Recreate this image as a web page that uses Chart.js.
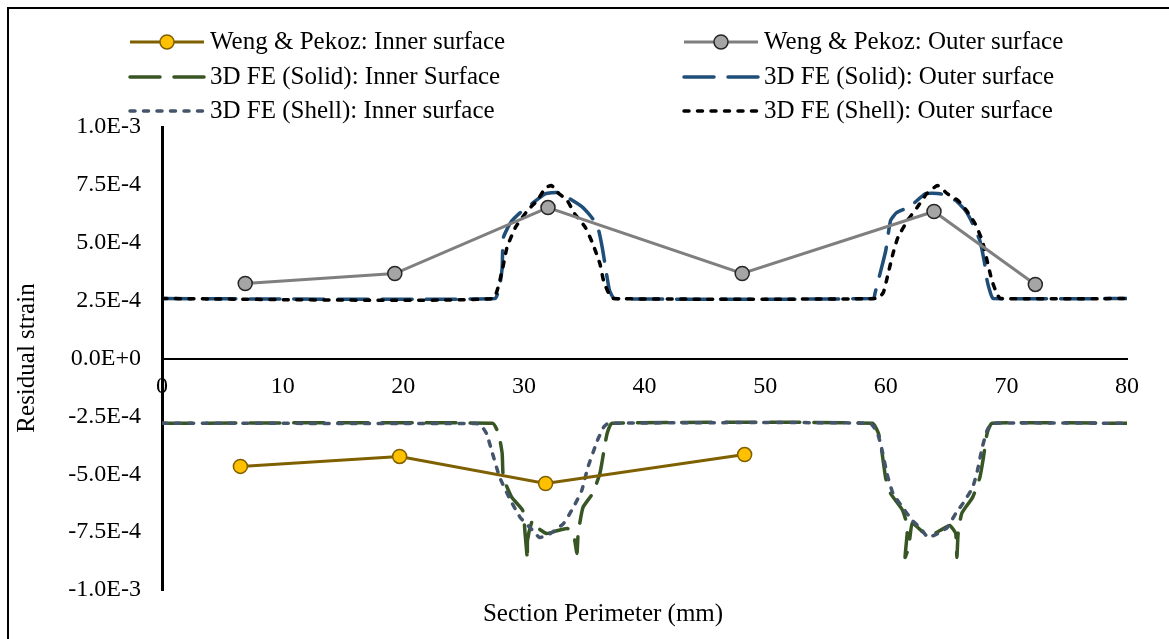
<!DOCTYPE html>
<html>
<head>
<meta charset="utf-8">
<title>Residual strain along section perimeter</title>
<script src="https://cdn.jsdelivr.net/npm/chart.js@4.4.1/dist/chart.umd.min.js"></script>
<style>
  html, body { margin: 0; padding: 0; background: #fff; }
  #wrap { width: 1169px; height: 639px; }
</style>
</head>
<body>
<div id="wrap"><canvas id="strain" width="1169" height="639"></canvas></div>
<script>
// ── Data (perimeter position in mm, residual strain) ──────────────────────────

var wengInnerX = [6.5, 19.7, 31.8, 48.3];
var wengInnerY = [-4.66e-4, -4.23e-4, -5.40e-4, -4.15e-4];

var wengOuterX = [6.9, 19.3, 32.0, 48.1, 64.0, 72.4];
var wengOuterY = [3.24e-4, 3.67e-4, 6.52e-4, 3.67e-4, 6.35e-4, 3.20e-4];

var solidInnerX = [0, 27.4, 27.9, 28.2, 28.3, 29.0, 29.9, 30.1, 30.3, 30.3, 30.7, 31.1, 31.9, 32.8, 33.6, 34.1, 34.4, 34.5, 34.9, 35.7, 36.3, 36.6, 36.9, 37.3,
                   58.9, 59.4, 59.7, 60.0, 60.4, 61.4, 61.8, 61.6, 61.9, 62.2, 63.1, 63.7, 64.5, 65.3, 65.8, 65.9, 66.0, 66.3, 67.2, 67.8, 68.1, 68.4, 68.8, 80];
var solidInnerY = [-2.80e-4, -2.80e-4, -3.24e-4, -4.10e-4, -5.14e-4, -6.00e-4, -6.56e-4, -7.56e-4, -8.72e-4, -7.86e-4, -7.00e-4, -7.30e-4, -7.56e-4, -7.43e-4, -7.34e-4, -7.56e-4, -8.42e-4, -7.56e-4, -6.43e-4, -5.83e-4, -4.97e-4, -4.10e-4, -3.24e-4, -2.80e-4,
                   -2.80e-4, -3.24e-4, -4.10e-4, -5.18e-4, -5.83e-4, -6.56e-4, -7.30e-4, -8.59e-4, -8.16e-4, -7.12e-4, -7.51e-4, -7.64e-4, -7.43e-4, -7.21e-4, -7.56e-4, -8.59e-4, -7.56e-4, -6.69e-4, -6.00e-4, -5.14e-4, -4.27e-4, -3.24e-4, -2.80e-4, -2.80e-4];

var solidOuterX = [0, 27.6, 28.0, 28.2, 28.3, 28.9, 29.7, 30.7, 31.8, 32.8, 33.8, 34.9, 35.7, 36.2, 36.5, 36.7, 36.9, 37.1, 37.5,
                   59.0, 59.1, 59.7, 60.0, 60.4, 60.9, 62.0, 63.3, 64.5, 65.8, 66.6, 67.2, 67.8, 68.2, 68.4, 68.7, 68.9, 80];
var solidOuterY = [2.59e-4, 2.59e-4, 3.15e-4, 3.93e-4, 5.22e-4, 5.87e-4, 6.30e-4, 6.70e-4, 7.12e-4, 7.17e-4, 6.90e-4, 6.52e-4, 6.04e-4, 5.53e-4, 4.79e-4, 4.15e-4, 3.50e-4, 2.94e-4, 2.59e-4,
                   2.59e-4, 2.80e-4, 4.02e-4, 4.66e-4, 5.96e-4, 6.30e-4, 6.56e-4, 7.12e-4, 7.12e-4, 6.82e-4, 6.39e-4, 5.83e-4, 5.10e-4, 4.10e-4, 3.37e-4, 2.80e-4, 2.59e-4, 2.59e-4];

var shellInnerX = [0, 26.0, 26.4, 26.9, 27.4, 28.0, 28.9, 29.7, 30.5, 31.3, 32.2, 33.3, 34.1, 34.8, 35.3, 36.1, 36.6, 37.0,
                   58.7, 59.3, 59.7, 60.1, 60.6, 61.4, 62.2, 62.9, 63.5, 64.3, 65.1, 65.8, 66.4, 67.2, 67.6, 68.0, 68.4, 68.8, 80];
var shellInnerY = [-2.80e-4, -2.81e-4, -2.85e-4, -3.24e-4, -4.10e-4, -5.14e-4, -6.13e-4, -6.87e-4, -7.30e-4, -7.73e-4, -7.56e-4, -7.12e-4, -6.43e-4, -5.70e-4, -4.71e-4, -3.54e-4, -2.98e-4, -2.80e-4,
                   -2.80e-4, -3.20e-4, -3.97e-4, -4.97e-4, -5.83e-4, -6.43e-4, -7.00e-4, -7.34e-4, -7.73e-4, -7.56e-4, -7.30e-4, -6.69e-4, -6.26e-4, -5.57e-4, -4.84e-4, -3.84e-4, -3.11e-4, -2.80e-4, -2.80e-4];

var shellOuterX = [0, 27.4, 28.2, 28.6, 29.3, 30.3, 31.1, 31.8, 32.3, 32.8, 33.6, 34.2, 35.1, 35.7, 36.3, 36.6, 37.0, 37.4,
                   59.3, 59.8, 60.2, 60.6, 61.0, 61.8, 62.6, 63.4, 64.3, 65.1, 66.0, 66.7, 67.4, 68.0, 68.4, 68.8, 69.2, 69.5, 80];
var shellOuterY = [2.59e-4, 2.59e-4, 3.80e-4, 4.80e-4, 5.66e-4, 6.39e-4, 6.82e-4, 7.38e-4, 7.47e-4, 7.17e-4, 6.82e-4, 6.26e-4, 5.66e-4, 4.97e-4, 4.10e-4, 3.37e-4, 2.85e-4, 2.59e-4,
                   2.59e-4, 2.85e-4, 3.67e-4, 4.53e-4, 5.22e-4, 5.96e-4, 6.52e-4, 7.12e-4, 7.47e-4, 7.12e-4, 6.82e-4, 6.39e-4, 5.83e-4, 5.10e-4, 4.23e-4, 3.37e-4, 2.81e-4, 2.59e-4, 2.59e-4];

var seriesLabels = [
    'Weng & Pekoz: Inner surface', 'Weng & Pekoz: Outer surface',
    '3D FE (Solid): Inner Surface', '3D FE (Solid): Outer surface',
    '3D FE (Shell): Inner surface', '3D FE (Shell): Outer surface'
];
var xTitle = 'Section Perimeter (mm)';
var yTitle = 'Residual strain';

// ── Helpers ───────────────────────────────────────────────────────────────────

var FONT = "'Liberation Serif', 'Times New Roman', serif";

function pts(xs, ys) {
    return xs.map(function (x, i) { return { x: x, y: ys[i] }; });
}

function markerSeries(label, xs, ys, line, fill, edge) {
    return {
        label: label, data: pts(xs, ys), order: 0,
        borderColor: line, borderWidth: 3, tension: 0,
        pointRadius: 7, pointHoverRadius: 7, pointBorderWidth: 1.5,
        pointBackgroundColor: fill, pointBorderColor: edge
    };
}

function dashedSeries(label, xs, ys, color, dash, order) {
    return {
        label: label, data: pts(xs, ys), order: order,
        borderColor: color, borderWidth: 3.5, borderDash: dash,
        borderCapStyle: 'round', tension: 0.15, pointRadius: 0
    };
}

// ── Plugins: frame, axis titles, two-column legend ───────────────────────────

var frame = {
    id: 'frame',
    beforeDraw: function (chart) {
        var ctx = chart.ctx;
        ctx.save();
        ctx.fillStyle = '#fff';
        ctx.fillRect(0, 0, chart.width, chart.height);
        ctx.strokeStyle = '#000';
        ctx.lineWidth = 2;
        ctx.beginPath();
        ctx.moveTo(8, chart.height);
        ctx.lineTo(8, 8);
        ctx.lineTo(chart.width, 8);
        ctx.stroke();
        ctx.restore();
    }
};

var titles = {
    id: 'titles',
    afterDraw: function (chart) {
        var ctx = chart.ctx;
        ctx.save();
        ctx.fillStyle = '#000';
        ctx.font = '25px ' + FONT;
        ctx.textAlign = 'center';
        ctx.textBaseline = 'middle';
        ctx.fillText(xTitle, 603, 614);
        ctx.translate(27, 358);
        ctx.rotate(-Math.PI / 2);
        ctx.fillText(yTitle, 0, 0);
        ctx.restore();
    }
};

var legendCols = [130, 684];
var legendRows = [42, 77, 111];

var twoColLegend = {
    id: 'twoColLegend',
    afterDraw: function (chart) {
        var ctx = chart.ctx;
        ctx.save();
        chart.data.datasets.forEach(function (ds, i) {
            var x0 = legendCols[i % 2], y = legendRows[Math.floor(i / 2)];
            ctx.strokeStyle = ds.borderColor;
            ctx.lineWidth = ds.borderWidth;
            ctx.lineCap = ds.borderCapStyle || 'butt';
            ctx.setLineDash(ds.borderDash || []);
            ctx.beginPath();
            ctx.moveTo(x0, y);
            ctx.lineTo(x0 + 74, y);
            ctx.stroke();
            ctx.setLineDash([]);
            if (ds.pointRadius) {
                ctx.beginPath();
                ctx.arc(x0 + 37, y, ds.pointRadius, 0, Math.PI * 2);
                ctx.fillStyle = ds.pointBackgroundColor;
                ctx.fill();
                ctx.lineWidth = ds.pointBorderWidth;
                ctx.strokeStyle = ds.pointBorderColor;
                ctx.stroke();
            }
            ctx.fillStyle = '#000';
            ctx.font = '25px ' + FONT;
            ctx.textAlign = 'left';
            ctx.textBaseline = 'middle';
            ctx.fillText(ds.label, x0 + 80, y);
        });
        ctx.restore();
    }
};

// ── Chart ─────────────────────────────────────────────────────────────────────

new Chart(document.getElementById('strain'), {
    type: 'line',
    data: {
        datasets: [
            markerSeries(seriesLabels[0], wengInnerX, wengInnerY, '#7F6000', '#FFC000', '#7F6000'),
            markerSeries(seriesLabels[1], wengOuterX, wengOuterY, '#7F7F7F', '#A5A5A5', '#262626'),
            dashedSeries(seriesLabels[2], solidInnerX, solidInnerY, '#375623', [30, 14], 2),
            dashedSeries(seriesLabels[3], solidOuterX, solidOuterY, '#1F4E79', [30, 14], 2),
            dashedSeries(seriesLabels[4], shellInnerX, shellInnerY, '#44546A', [5, 8.5], 1),
            dashedSeries(seriesLabels[5], shellOuterX, shellOuterY, '#000000', [5, 8.5], 1)
        ]
    },
    options: {
        responsive: false,
        animation: false,
        events: [],
        layout: { padding: { top: 127, right: 42, bottom: 49, left: 0 } },
        plugins: {
            legend: { display: false },
            tooltip: { enabled: false }
        },
        scales: {
            x: {
                type: 'linear',
                position: { y: 0 },
                min: 0, max: 80,
                grid: { display: false, drawTicks: false },
                border: { color: '#000', width: 2 },
                ticks: { stepSize: 10, padding: 14, color: '#000', font: { family: FONT, size: 24 } }
            },
            y: {
                type: 'linear',
                min: -1e-3, max: 1e-3,
                grid: { display: false, drawTicks: false },
                border: { color: '#000', width: 3 },
                ticks: {
                    stepSize: 2.5e-4, padding: 21, color: '#000',
                    font: { family: FONT, size: 24 },
                    callback: function (v) { return Number(v).toExponential(1).toUpperCase(); }
                },
                afterFit: function (s) { s.width = 162; }
            }
        }
    },
    plugins: [frame, titles, twoColLegend]
});
</script>
</body>
</html>
